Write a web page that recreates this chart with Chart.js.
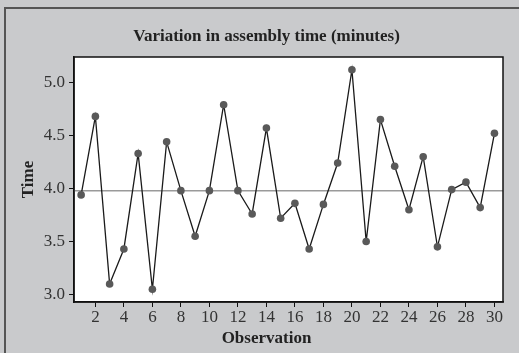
<!DOCTYPE html>
<html>
<head>
<meta charset="utf-8">
<script src="https://cdn.jsdelivr.net/npm/chart.js@4.4.1/dist/chart.umd.min.js"></script>
<style>
html,body{margin:0;padding:0;background:#c9cacc;}
#wrap{position:absolute;left:0;top:0;width:519px;height:353px;}
</style>
</head>
<body>
<div id="wrap"><canvas id="grafico" width="519" height="353"></canvas></div>
<script>

// observation numbers and assembly times
const observacoes = [1,2,3,4,5,6,7,8,9,10,11,12,13,14,15,16,17,18,19,20,21,22,23,24,25,26,27,28,29,30];

const tempos = [3.94,4.68,3.10,3.43,4.33,3.05,4.44,3.98,3.55,3.98,4.79,3.98,3.76,4.57,3.72,
3.86,3.43,3.85,4.24,5.12,3.50,4.65,4.21,3.80,4.30,3.45,3.99,4.06,3.82,4.52];

const linhaCentral = 3.98;

const ticksX = [2,4,6,8,10,12,14,16,18,20,22,24,26,28,30];
const ticksY = [3.0,3.5,4.0,4.5,5.0];

const tituloX = "Observation";


const fonte = "'Liberation Serif', 'DejaVu Serif', serif";


// moldura cinza, linha central e borda do grafico
const moldura = {
id:"moldura",
beforeDraw(chart){
const ctx = chart.ctx;
ctx.save();
ctx.fillStyle = "#c9cacc";
ctx.fillRect(0,0,chart.width,chart.height);
ctx.strokeStyle = "#555";
ctx.lineWidth = 2;
ctx.beginPath();
ctx.moveTo(5,353);
ctx.lineTo(5,8);
ctx.lineTo(519,8);
ctx.stroke();
const a = chart.chartArea;
ctx.fillStyle = "#fff";
ctx.fillRect(a.left,a.top,a.right-a.left,a.bottom-a.top);
ctx.restore();
},
beforeDatasetsDraw(chart){
const ctx = chart.ctx;
const a = chart.chartArea;
const y = chart.scales.y.getPixelForValue(linhaCentral);
ctx.save();
ctx.strokeStyle = "#9a9a9a";
ctx.lineWidth = 1.5;
ctx.beginPath();
ctx.moveTo(a.left,y);
ctx.lineTo(a.right,y);
ctx.stroke();
ctx.restore();
},
afterDraw(chart){
const ctx = chart.ctx;
const a = chart.chartArea;
ctx.save();
ctx.strokeStyle = "#111";
ctx.lineWidth = 1.5;
ctx.strokeRect(a.left,a.top,a.right-a.left,a.bottom-a.top);
// titulo do eixo x, centrado na figura como no original
ctx.fillStyle = "#222";
ctx.font = "bold 17px " + fonte;
ctx.textAlign = "center";
ctx.textBaseline = "middle";
ctx.fillText(tituloX,(chart.width+14)/2,339);
ctx.restore();
}
};


new Chart(
document.getElementById("grafico"),
{
type:"line",
data:{
datasets:[{
label:"Time",
data:observacoes.map((o,i)=>({x:o,y:tempos[i]})),
borderColor:"#1a1a1a",
borderWidth:1.3,
pointRadius:3.8,
pointBackgroundColor:"#595959",
pointBorderColor:"#595959",
pointBorderWidth:0,
tension:0
}]
},
options:{
responsive:false,
animation:false,
layout:{padding:{left:30,right:16,top:10,bottom:4}},
plugins:{
legend:{display:false},
tooltip:{enabled:false},
title:{
display:true,
text:"Variation in assembly time (minutes)",
color:"#222",
font:{family:fonte,size:17,weight:"bold"},
padding:{top:16,bottom:10.6}
}
},
scales:{
x:{
type:"linear",
min:0.5,
max:30.6,
afterBuildTicks(s){ s.ticks = ticksX.map(v=>({value:v})); },
afterFit(s){ s.height = 47; },
grid:{drawOnChartArea:false,tickLength:5,color:"#111"},
border:{color:"#111",width:1.5},
ticks:{color:"#333",font:{family:fonte,size:17},padding:0,maxRotation:0,autoSkip:false},
title:{display:false}
},
y:{
min:2.93,
max:5.24,
afterBuildTicks(s){ s.ticks = ticksY.map(v=>({value:v})); },
afterFit(s){ s.width = 44; },
grid:{drawOnChartArea:false,tickLength:5,color:"#111"},
border:{color:"#111",width:1.5},
ticks:{color:"#333",font:{family:fonte,size:17},padding:4,callback:v=>v.toFixed(1)},
title:{display:true,text:"Time",color:"#222",font:{family:fonte,size:17,weight:"bold"},padding:{top:-12,bottom:0}}
}
}
},
plugins:[moldura]
}
);

</script>
</body>
</html>
